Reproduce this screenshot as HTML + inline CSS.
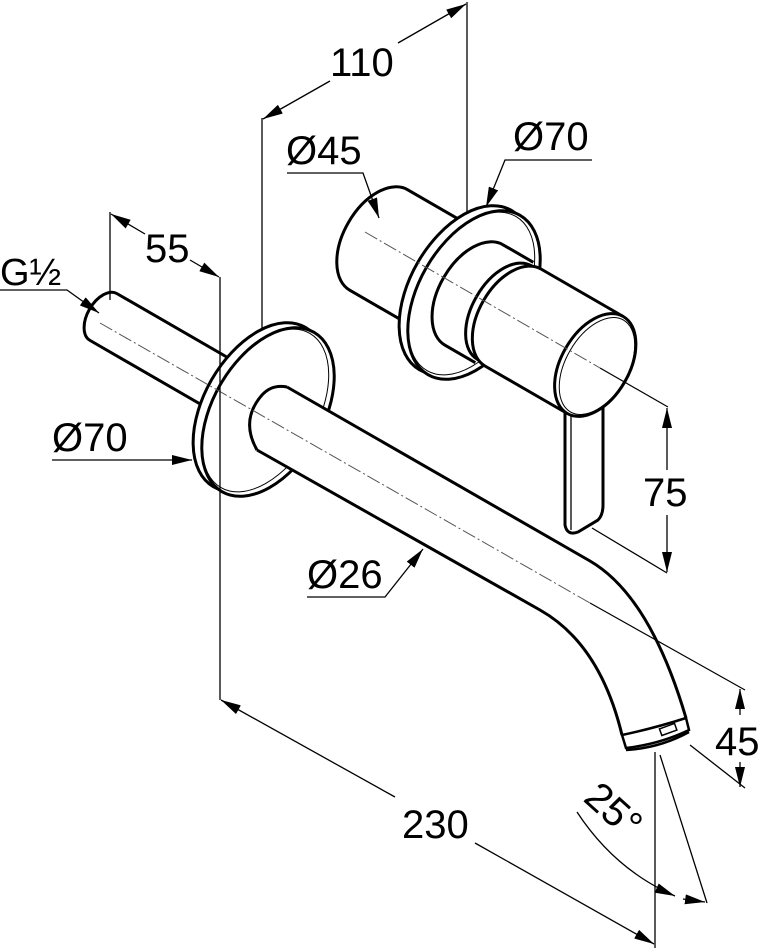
<!DOCTYPE html>
<html><head><meta charset="utf-8"><style>
html,body{margin:0;padding:0;background:#fff}
svg{display:block}
text{font-family:"Liberation Sans",Arial,sans-serif;fill:#000}
</style></head><body>
<svg width="762" height="950" viewBox="0 0 762 950" xmlns="http://www.w3.org/2000/svg">
<defs>
<marker id="a" viewBox="0 0 20 10" refX="20" refY="5" markerWidth="20" markerHeight="10" markerUnits="userSpaceOnUse" orient="auto-start-reverse">
<path d="M0,0 L20,5 L0,10 z" fill="#000"/>
</marker>
</defs>

<!-- LEFT ASSEMBLY -->
<g transform="translate(268 412) rotate(30)" stroke="#000" stroke-width="3" fill="#fff">
  <path d="M-20,-27 L-190,-27 A16 27 0 0 0 -190,27 L-20,27" />
  <path d="M-12,-32 L-22,-32 A19 32 0 0 0 -22,32 L-12,32" stroke-width="2"/>
  <path d="M-17,-31 A18 31 0 0 0 -17,31" fill="none" stroke-width="1.3"/>
  <ellipse cx="-10" cy="0" rx="55" ry="92"/>
  <ellipse cx="0" cy="0" rx="55" ry="92"/>
  <ellipse cx="-3" cy="0" rx="52" ry="89" fill="none" stroke-width="1"/>
</g>

<!-- spout -->
<path d="M287,387 L590,561 Q650,596 686,718 L689,730 Q660,744 626,748 L622,735 Q600,644 540,610 L257,450 Q240,420 262,395 Q272,384 287,387 Z" fill="#fff" stroke="none"/>
<path d="M287,387 L590,561 Q650,596 686,718" fill="none" stroke="#000" stroke-width="3"/>
<path d="M622,735 Q600,644 540,610 L257,450" fill="none" stroke="#000" stroke-width="3"/>
<path d="M257,450 Q240,420 262,395 Q272,384 287,387" fill="none" stroke="#000" stroke-width="3"/>
<path d="M622,735 Q655,728 686,718 L689,730 Q660,744 626,748 Z" fill="#fff" stroke="#000" stroke-width="2.5"/>
<path d="M626,750 Q660,748 689,732" fill="none" stroke="#000" stroke-width="2.5"/>
<rect x="660" y="726" width="16" height="7" fill="none" stroke="#000" stroke-width="1.5" transform="rotate(-20 668 729)"/>

<!-- RIGHT ASSEMBLY -->
<g transform="translate(474 295) rotate(30)" stroke="#000" stroke-width="3" fill="#fff">
  <path d="M-10,-58 L-110,-58 A35 58 0 0 0 -110,58 L-10,58"/>
  <ellipse cx="-10" cy="0" rx="55" ry="92"/>
  <ellipse cx="0" cy="0" rx="55" ry="92"/>
  <ellipse cx="-3" cy="0" rx="52" ry="89" fill="none" stroke-width="1"/>
  <path d="M35,-58 L0,-58 A35 58 0 0 0 0,58 L35,58"/>
  <path d="M45,-54 L35,-54 A32 54 0 0 0 35,54 L45,54"/>
  <path d="M140,-56 L45,-56 A34 56 0 0 0 45,56 L140,56"/>
</g>
<path d="M565,410 L565,525 Q567,536 578,532 L598,520 Q603,515 603,505 L603,405 Z" fill="#fff" stroke="#000" stroke-width="3"/>
<line x1="571" y1="412" x2="571" y2="530" stroke="#000" stroke-width="1.3"/>
<g transform="translate(474 295) rotate(30)" stroke="#000" stroke-width="3" fill="#fff">
  <ellipse cx="140" cy="0" rx="34" ry="56"/>
  <ellipse cx="142" cy="0" rx="31" ry="53" fill="none" stroke-width="1"/>
</g>

<!-- centerlines -->
<g stroke="#555" stroke-width="1" stroke-dasharray="14 3 2 3" fill="none">
  <line x1="100" y1="323" x2="590" y2="603"/>
  <line x1="365" y1="232" x2="600" y2="368"/>
</g>
<g stroke="#000" stroke-width="1.2" fill="none">
  <line x1="590" y1="603" x2="745" y2="690"/>
  <line x1="600" y1="368" x2="668" y2="407"/>
</g>

<!-- DIMENSIONS -->
<g stroke="#000" stroke-width="1.3" fill="none">
  <line x1="262" y1="118" x2="262" y2="330"/>
  <line x1="467" y1="2" x2="467" y2="212"/>
  <line x1="330" y1="81" x2="263" y2="119" marker-end="url(#a)"/>
  <line x1="398" y1="43" x2="466" y2="4" marker-end="url(#a)"/>
  <line x1="110" y1="212" x2="110" y2="300"/>
  <line x1="220" y1="277" x2="220" y2="700"/>
  <line x1="145" y1="234" x2="111" y2="214" marker-end="url(#a)"/>
  <line x1="190" y1="260" x2="219" y2="277" marker-end="url(#a)"/>
  <polyline points="0,290 67,290 99,313" marker-end="url(#a)"/>
  <polyline points="287,173 363,173 379,218" marker-end="url(#a)"/>
  <polyline points="592,160 505,160 486,207" marker-end="url(#a)"/>
  <polyline points="52,460 192,460" marker-end="url(#a)"/>
  <polyline points="307,597 385,597 423,549" marker-end="url(#a)"/>
  <line x1="592" y1="528" x2="667" y2="573"/>
  <line x1="667" y1="470" x2="667" y2="408" marker-end="url(#a)"/>
  <line x1="667" y1="515" x2="667" y2="572" marker-end="url(#a)"/>
  <line x1="690" y1="745" x2="745" y2="788"/>
  <line x1="740" y1="715" x2="740" y2="689" marker-end="url(#a)"/>
  <line x1="740" y1="762" x2="740" y2="787" marker-end="url(#a)"/>
  <line x1="655" y1="752" x2="655" y2="948"/>
  <line x1="395" y1="797" x2="221" y2="700" marker-end="url(#a)"/>
  <line x1="475" y1="843" x2="654" y2="944" marker-end="url(#a)"/>
  <line x1="660" y1="755" x2="707" y2="903"/>
  <path d="M577,812 Q615,870 675,896" marker-end="url(#a)"/>
  <line x1="683" y1="899" x2="705" y2="902" marker-end="url(#a)"/>
</g>

<g font-size="40">
  <text x="330" y="76">110</text>
  <text x="145" y="262">55</text>
  <text x="0" y="285" font-size="38">G½</text>
  <text x="286" y="164">Ø45</text>
  <text x="513" y="150">Ø70</text>
  <text x="52" y="451">Ø70</text>
  <text x="307" y="588">Ø26</text>
  <text x="643" y="506">75</text>
  <text x="715" y="755">45</text>
  <text x="402" y="838">230</text>
  <text x="0" y="0" transform="translate(582 800) rotate(42)">25°</text>
</g>
</svg>
</body></html>
